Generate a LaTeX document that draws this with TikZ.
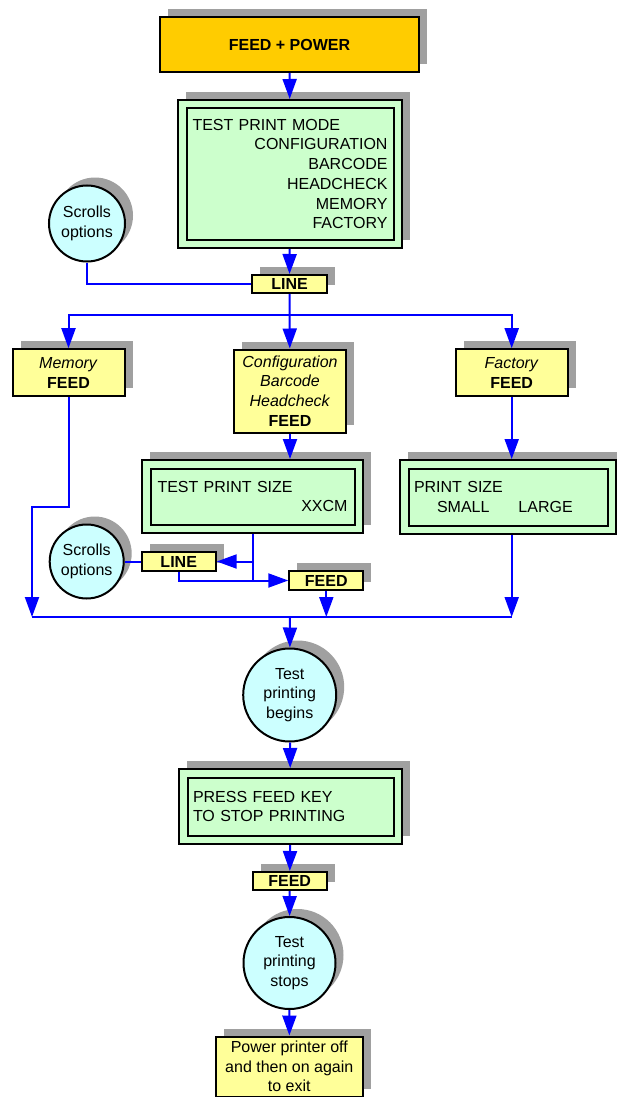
\documentclass[tikz,border=0pt]{standalone}
\usepackage{fontspec}
\setmainfont{Liberation Sans}
\usetikzlibrary{arrows.meta,shadows}

\definecolor{feedorange}{HTML}{FFCC00}
\definecolor{keyyellow}{HTML}{FFFF99}
\definecolor{lcdgreen}{HTML}{CCFFCC}
\definecolor{stepcyan}{HTML}{CCFFFF}
\definecolor{shadowgray}{HTML}{A0A0A0}
\definecolor{flowblue}{HTML}{0000FF}

\begin{document}
\begin{tikzpicture}[x=1pt,y=-1pt,
		>={Triangle[length=20pt,width=14pt]},
		every node/.style={font=\fontsize{16pt}{19.7pt}\selectfont},
		boxshadow/.style={general shadow={fill=shadowgray,shadow xshift=8pt,shadow yshift=8pt}},
		keybox/.style={boxshadow,rectangle,draw,line width=2pt,fill=keyyellow,inner sep=0pt,align=center},
		lcdbox/.style={boxshadow,rectangle,draw,line width=2pt,fill=lcdgreen,inner sep=0pt,align=left},
		stepcircle/.style={boxshadow,circle,draw,line width=2pt,fill=stepcyan,inner sep=0pt,align=center},
		lcdframe/.style={draw,line width=2pt},
		flow/.style={draw=flowblue,line width=2pt}]
				\useasboundingbox (0,0) rectangle (617,1097);

				% keys and displays
				\node[keybox,fill=feedorange,minimum width=259pt,minimum height=55pt] (power) at (289.5,44.5)
					{\textbf{FEED + POWER}};
				\node[lcdbox,minimum width=224pt,minimum height=148pt,text width=195pt] (mode) at (290,174)
					{TEST PRINT MODE\\
						\hspace*{\fill}CONFIGURATION\\
						\hspace*{\fill}BARCODE\\
						\hspace*{\fill}HEADCHECK\\
						\hspace*{\fill}MEMORY\\
						\hspace*{\fill}FACTORY};
				\node[keybox,minimum width=75pt,minimum height=18pt] (line1) at (289.5,284) {\textbf{LINE}};
				\node[stepcircle,minimum size=76pt] (scroll1) at (87,223.5) {Scrolls\\options};

				\node[keybox,minimum width=112pt,minimum height=47pt] (memory) at (68.5,372.7)
					{\textit{Memory}\\\textbf{FEED}};
				\node[keybox,minimum width=112pt,minimum height=83pt] (config) at (290,391)
					{\textit{Configuration}\\\textit{Barcode}\\\textit{Headcheck}\\\textbf{FEED}};
				\node[keybox,minimum width=112pt,minimum height=47pt] (factory) at (511.7,372.7)
					{\textit{Factory}\\\textbf{FEED}};

				\node[lcdbox,minimum width=221pt,minimum height=73pt,text width=190pt] (size) at (252.5,496.5)
					{TEST PRINT SIZE\\\hspace*{\fill}XXCM};
				\node[lcdbox,minimum width=216pt,minimum height=74pt,text width=188pt] (psize) at (508,497)
					{PRINT SIZE\\\hspace*{23pt}SMALL\hspace{29pt}LARGE};

				\node[stepcircle,minimum size=74pt] (scroll2) at (86.7,561.5) {Scrolls\\options};
				\node[keybox,minimum width=74pt,minimum height=19pt] (line2) at (178.7,561.5) {\textbf{LINE}};
				\node[keybox,minimum width=74pt,minimum height=19pt] (feed1) at (326.3,580.5) {\textbf{FEED}};

				\node[stepcircle,minimum size=93pt] (begins) at (289.7,695) {Test\\printing\\begins};
				\node[lcdbox,minimum width=223pt,minimum height=75pt,text width=195pt] (press) at (290.5,806.5)
					{PRESS FEED KEY\\TO STOP PRINTING};
				\node[keybox,minimum width=74pt,minimum height=18pt] (feed2) at (289.7,881) {\textbf{FEED}};
				\node[stepcircle,minimum size=92pt] (stops) at (289.5,963) {Test\\printing\\stops};
				\node[keybox,minimum width=147pt,minimum height=60pt] (exit) at (289.3,1066.5)
					{Power printer off\\and then on again\\to exit};

				% inner frames of the displays
				\foreach \n in {mode,size,psize,press}
					\draw[lcdframe] ([shift={(9.5pt,-9.5pt)}]\n.north west) rectangle ([shift={(-9.5pt,9.5pt)}]\n.south east);

				\coordinate (split) at (289.5,315);
				\coordinate (mleft) at (32,617);
				\coordinate (mright) at (511.7,617);
				\coordinate (mmid) at (290,617);

				% flow
				\draw[flow,->] (power) -- (mode);
				\draw[flow,->] (mode) -- (line1);
				\draw[flow] (scroll1.south) |- (line1.west);
				\draw[flow,->] (line1) -- (config);
				\draw[flow,->] (split) -| (memory.north);
				\draw[flow,->] (split) -| (factory.north);

				\draw[flow,->] (memory.south) -- ++(0,110) -| (mleft);
				\draw[flow,->] (config.south) -- (config.south |- size.north);
				\draw[flow,->] (factory.south) -- (factory.south |- psize.north);
				\draw[flow,->] (psize.south -| mright) -- (mright);

				\draw[flow] (size.south) -- (size.south |- feed1.west);
				\draw[flow,->] (size.south |- line2.east) -- (line2.east);
				\draw[flow,->] (line2.south) |- (feed1.west);
				\draw[flow] (scroll2) -- (line2);
				\draw[flow,->] (feed1.south) -- (feed1.south |- mmid);

				\draw[flow] (mleft) -- (mright);
				\draw[flow,->] (mmid) -- (begins);
				\draw[flow,->] (begins) -- (press);
				\draw[flow,->] (press) -- (feed2);
				\draw[flow,->] (feed2) -- (stops);
				\draw[flow,->] (stops) -- (exit);
			\end{tikzpicture}
\end{document}
